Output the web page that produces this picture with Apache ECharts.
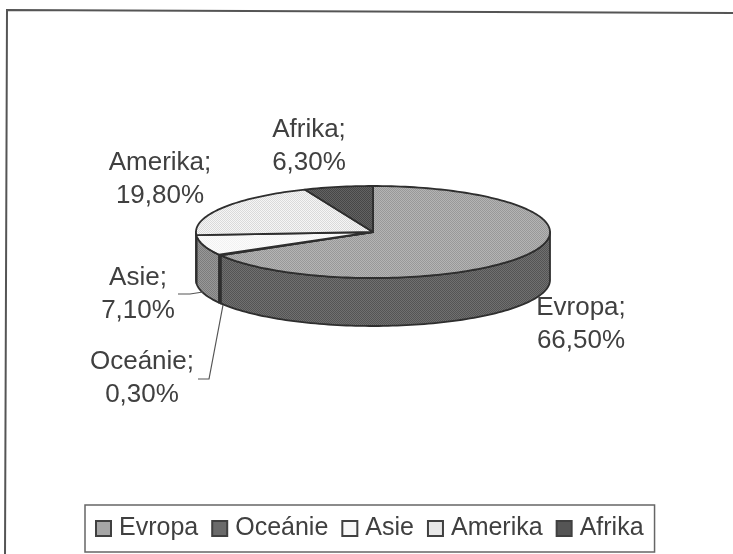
<!DOCTYPE html>
<html>
<head>
<meta charset="utf-8">
<style>html,body{margin:0;padding:0;background:#fff}#c{width:733px;height:554px}</style>
<script src="https://cdn.jsdelivr.net/npm/echarts@6/dist/echarts.min.js"></script>
</head>
<body>
<div id="c"></div>
<script>
// Share of each continent, in per cent, clockwise from twelve o'clock.
const categories = ['Evropa', 'Oceánie', 'Asie', 'Amerika', 'Afrika'];
const shares = [66.5, 0.3, 7.1, 19.8, 6.3];
const topColors = ['#a6a6a6', '#6a6a6a', '#f7f7f7', '#e8e8e8', '#555555'];
const wallColors = ['#626262', '#5a5a5a', '#8a8a8a', '#8e8e8e', '#404040'];

// Tilted disc geometry, in pixels.
const disc = { cx: 373, cy: 232, rx: 177, ry: 46, depth: 48 };
const outline = '#2e2e2e';
const FONT = '"Liberation Sans", Arial, sans-serif';

// Label anchors (text centre) and leader lines.
const labelSpots = [
  { x: 581, y: 324 }, { x: 142, y: 378 }, { x: 138, y: 294 }, { x: 160, y: 179 }, { x: 309, y: 146 }
];
const leaders = [
  [[178, 294], [190, 294], [203, 292]],
  [[198, 379], [209, 379], [223, 305]]
];

const total = shares.reduce((a, b) => a + b, 0);
const starts = [];
shares.reduce((sum, v, i) => { starts[i] = sum; return sum + v; }, 0);

// Fine two-tone halftone used as the fill of the disc surfaces.
function halftone(hex) {
  const base = parseInt(hex.slice(1, 3), 16);
  const spread = base > 235 ? 5 : 14;
  const tile = document.createElement('canvas');
  tile.width = tile.height = 2;
  const ctx = tile.getContext('2d');
  const shade = v => { const c = Math.max(0, Math.min(255, v)); return 'rgb(' + c + ',' + c + ',' + c + ')'; };
  ctx.fillStyle = shade(base + spread);
  ctx.fillRect(0, 0, 2, 2);
  ctx.fillStyle = shade(base - spread);
  ctx.fillRect(0, 0, 1, 1);
  ctx.fillRect(1, 1, 1, 1);
  return { image: tile, repeat: 'repeat' };
}

function rimPoint(deg, drop) {
  const a = deg * Math.PI / 180;
  return [disc.cx + disc.rx * Math.sin(a), disc.cy - disc.ry * Math.cos(a) + drop];
}
function arc(from, to, drop) {
  const pts = [];
  const n = Math.max(2, Math.ceil(Math.abs(to - from) / 1.5));
  for (let i = 0; i <= n; i++) pts.push(rimPoint(from + (to - from) * i / n, drop));
  return pts;
}
const percentText = v => v.toFixed(2).replace('.', ',') + '%';

function renderSlice(index) {
  return function () {
    const from = starts[index] / total * 360;
    const to = (starts[index] + shares[index]) / total * 360;
    const children = [];
    // Only the part of the rim facing the viewer shows a wall.
    const wallFrom = Math.max(from, 90);
    const wallTo = Math.min(to, 270);
    if (wallTo > wallFrom) {
      children.push({
        type: 'polygon',
        z2: 1,
        shape: { points: arc(wallFrom, wallTo, 0).concat(arc(wallTo, wallFrom, disc.depth)) },
        style: { fill: halftone(wallColors[index]), stroke: outline, lineWidth: 1.8, lineJoin: 'round' }
      });
    }
    children.push({
      type: 'polygon',
      z2: 2,
      shape: { points: [[disc.cx, disc.cy]].concat(arc(from, to, 0)) },
      style: { fill: halftone(topColors[index]), stroke: outline, lineWidth: 1.8, lineJoin: 'round' }
    });
    const spot = labelSpots[index];
    children.push({
      type: 'text',
      z2: 5,
      x: spot.x,
      y: spot.y,
      style: {
        text: categories[index] + ';\n' + percentText(shares[index]),
        font: '26px ' + FONT,
        fill: '#404040',
        align: 'center',
        verticalAlign: 'middle',
        lineHeight: 33
      }
    });
    return { type: 'group', children };
  };
}

const series = categories.map((name, i) => ({
  type: 'custom',
  name,
  coordinateSystem: 'none',
  silent: true,
  itemStyle: { color: topColors[i] },
  data: [[shares[i]]],
  renderItem: renderSlice(i)
}));

const chart = echarts.init(document.getElementById('c'), null, { renderer: 'canvas' });
chart.setOption({
  backgroundColor: '#ffffff',
  animation: false,
  graphic: [
    {
      // Only the top and left edges of the chart frame are in view.
      type: 'polyline', z: 0, silent: true,
      shape: { points: [[5, 554], [7, 10], [733, 13]] },
      style: { fill: 'none', stroke: '#555555', lineWidth: 2 }
    }
  ].concat(leaders.map(points => ({
    type: 'polyline', z: 10, silent: true,
    shape: { points },
    style: { fill: 'none', stroke: '#555555', lineWidth: 1.2 }
  }))),
  legend: {
    data: categories,
    left: 85,
    top: 505,
    orient: 'horizontal',
    icon: 'rect',
    itemWidth: 15,
    itemHeight: 15,
    itemGap: 13,
    padding: [11, 11, 11, 10],
    borderColor: '#666666',
    borderWidth: 1.5,
    selectedMode: false,
    itemStyle: { borderColor: '#404040', borderWidth: 2 },
    textStyle: { fontFamily: FONT, fontSize: 25, color: '#404040', padding: [0, 0, 0, 3] }
  },
  series
});
</script>
</body>
</html>
